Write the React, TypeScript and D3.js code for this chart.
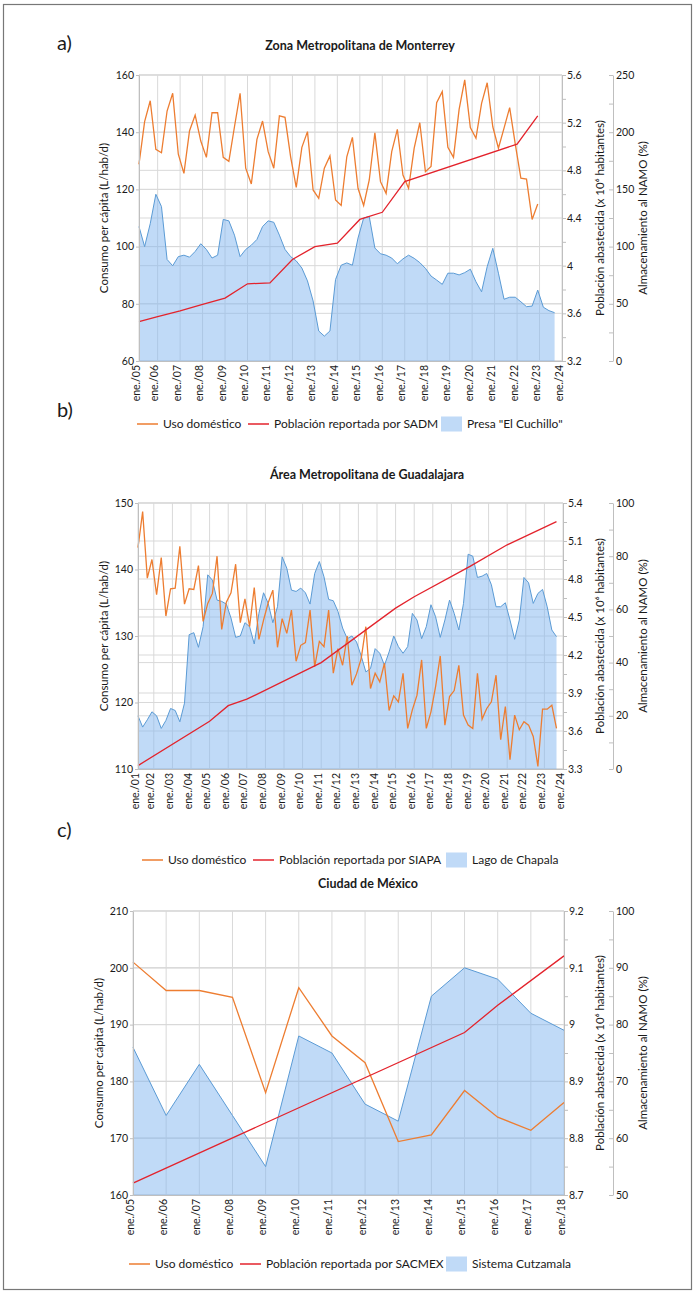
import { useEffect, useRef } from 'react'
import * as d3 from 'd3'

const W = 698, H = 1296
const FONT = 'Lato, "Open Sans", sans-serif'

const ORANGE = '#ed7d31'
const RED = '#e3232c'
const BLUE_LINE = '#5b9bd5'
const BLUE_FILL = '#82b5f0'
const GRID = '#d9d9d9'
const AXIS = '#bfbfbf'

// ── a) Monterrey: quarterly points, first one ~mar 2005 ───────────────────
const A_START = 2005.17
const A_USO = [
  128.8, 143.7, 151, 134,
  132.8, 147.4, 153.6, 132.3,
  125.6, 140.5, 146, 136.9,
  131.2, 146.8, 146.8, 131.2,
  129.8, 141.9, 153.6, 127.4,
  121.9, 137.5, 143.9, 133.2,
  127.4, 145.7, 145.2, 131.4,
  120.7, 134.7, 140.2, 119.8,
  116.9, 127.4, 131.7, 116.3,
  114.4, 131.4, 138.2, 120.4,
  114.4, 123.3, 139.8, 122.7,
  118.6, 133.2, 141, 125.0,
  120.4, 134.4, 143.3, 126.2,
  128, 150.3, 154.2, 134.7,
  131.2, 148, 158.3, 141.6,
  137.9, 150.1, 157.3, 141.9,
  134.4, 141.4, 148.6, 135.8,
  123.9, 123.6, 109.5, 114.9,
]
const A_PRESA = [
  117.5, 100, 120, 145.75, 135, 88.75, 83.25, 91.25, 92.5, 90.75,
  95.75, 102.5, 97.5, 90, 92.5, 123.75, 122.5, 110, 91.25, 97.5,
  101.25, 106.25, 117.5, 122.5, 121.25, 110, 97.5, 91.25, 87.5, 81.25,
  70, 52.5, 26.25, 21.75, 26.25, 71.25, 83.75, 85.75, 83.75, 107.5,
  125, 126.25, 98.75, 93.75, 92.5, 90, 85, 89.25, 92.5, 89.75,
  86, 81, 74.25, 70.75, 67, 76.75, 76.75, 75.25, 77.25, 80.25,
  69.25, 60.5, 82.5, 98.5, 76.75, 54, 55.75, 55.75, 51.75, 47.5,
  48, 62, 47, 44, 42.25,
]
const A_POB_T = [2005.17, 2006, 2007, 2008, 2009, 2010, 2011, 2012, 2013, 2014, 2015, 2016, 2017, 2022, 2022.92]
const A_POB = [3.531, 3.572, 3.62, 3.675, 3.728, 3.848, 3.855, 4.052, 4.16, 4.189, 4.388, 4.448, 4.705, 5.02, 5.257]

// ── b) Guadalajara: quarterly points, first one ~feb 2001 ─────────────────
const B_START = 2001.15
const B_USO = [
  143.3, 148.7, 138.7, 141.5, 136.2, 141.8, 133, 137.1, 137.2, 143.5,
  134.8, 137.1, 137, 140.6, 132.2, 134.9, 136.4, 142, 131, 135.1,
  136.5, 140.8, 132, 135.6, 131.4, 137.3, 129.5, 132.4, 135, 136.9,
  128.3, 132.6, 130.4, 133.9, 126.2, 128.6, 129, 133.9, 125.4, 129.2,
  128.4, 133.9, 124.4, 128.1, 125.6, 130, 122.6, 124.3, 126.6, 131.4,
  122.1, 124.4, 123.1, 125.9, 118.8, 121, 120.1, 124.4, 116.1, 118.9,
  121.1, 126.4, 116.1, 118.6, 122.4, 127, 116.6, 120.9, 121.8, 125.6,
  118.1, 116.6, 116.1, 124.4, 117.5, 119.1, 120.1, 124.1, 114.4, 119.4,
  111.4, 118.1, 115.9, 117.1, 116.6, 114.9, 110.4, 119, 119, 119.6,
  116.1,
]
const B_CHAPALA = [
  20, 15.75, 18.5, 21.5, 20, 15.25, 18.25, 22.75, 22, 17.75,
  24.75, 50.5, 51.25, 45.75, 53.5, 73, 71, 63.5, 63, 62,
  56.75, 49.5, 50, 55, 53.5, 47, 58.5, 66.25, 62.25, 55,
  61, 79.75, 75.5, 67.25, 66.75, 68, 66.25, 62, 73.5, 78,
  72.25, 63.75, 63.25, 59.25, 53, 49, 50, 47.75, 42.5, 36.5,
  37.75, 45.25, 43.5, 39, 44, 50, 46, 43.5, 46, 58.5,
  56, 49, 53.5, 61.75, 57.25, 49.5, 56, 63.5, 58.5, 52.25,
  62.25, 80.75, 80, 72, 72.5, 73.5, 69.25, 61, 61, 62.5,
  56, 48.75, 56, 72, 70, 62.25, 66, 67.5, 61, 52.25,
  49.75,
]
const B_POB_T = [2001.15, 2005, 2006, 2007, 2011, 2015, 2016, 2019, 2021, 2023.65]
const B_POB = [3.327, 3.677, 3.8, 3.851, 4.14, 4.57, 4.66, 4.9, 5.07, 5.253]

// ── c) Ciudad de México: annual ───────────────────────────────────────────
const C_YEARS = [2005, 2006, 2007, 2008, 2009, 2010, 2011, 2012, 2013, 2014, 2015, 2016, 2017, 2018]
const C_USO = [201, 196, 196, 194.8, 178, 196.5, 188, 183.3, 169.4, 170.6, 178.4, 173.7, 171.4, 176.3]
const C_CUTZ = [76, 64, 73, 64, 55, 78, 75, 66, 63, 85, 90, 88, 82, 79]
const C_POB_T = [2005, 2015, 2016, 2018]
const C_POB = [8.721, 8.986, 9.034, 9.121]

const quarterly = (start: number, n: number) => d3.range(n).map(i => start + i / 4)

type Ax = [number, number, number]
interface Series { t: number[]; v: number[] }
interface Panel {
  letter: string; letterY: number
  title: string; titleX: number; titleY: number
  l: number; r: number; t: number; b: number
  x0: number; x1: number; years: number[]
  leftAx: Ax; pobAx: Ax; pctAx: Ax
  uso: Series; pob: Series; pct: Series
  leftTitleX: number
  legendY: number; legendX: number[]
  pobLabel: string; pctLabel: string
}

const PANELS: Panel[] = [
  {
    letter: 'a)', letterY: 50,
    title: 'Zona Metropolitana de Monterrey', titleX: 360, titleY: 50,
    l: 139, r: 562, t: 75, b: 361,
    x0: A_START, x1: 2024, years: d3.range(2005, 2025),
    leftAx: [60, 160, 20], pobAx: [3.2, 5.6, 0.4], pctAx: [0, 250, 50],
    uso: { t: quarterly(A_START, A_USO.length), v: A_USO },
    pob: { t: A_POB_T, v: A_POB },
    pct: { t: quarterly(A_START, A_PRESA.length), v: A_PRESA },
    leftTitleX: 108,
    legendY: 424, legendX: [137, 248, 441],
    pobLabel: 'Población reportada por SADM', pctLabel: 'Presa "El Cuchillo"',
  },
  {
    letter: 'b)', letterY: 417,
    title: 'Área Metropolitana de Guadalajara', titleX: 367, titleY: 479,
    l: 138, r: 563, t: 503, b: 769,
    x0: B_START, x1: 2024, years: d3.range(2001, 2025),
    leftAx: [110, 150, 10], pobAx: [3.3, 5.4, 0.3], pctAx: [0, 100, 20],
    uso: { t: quarterly(B_START, B_USO.length), v: B_USO },
    pob: { t: B_POB_T, v: B_POB },
    pct: { t: quarterly(B_START, B_CHAPALA.length), v: B_CHAPALA },
    leftTitleX: 108,
    legendY: 860, legendX: [142, 253, 446],
    pobLabel: 'Población reportada por SIAPA', pctLabel: 'Lago de Chapala',
  },
  {
    letter: 'c)', letterY: 837,
    title: 'Ciudad de México', titleX: 368, titleY: 888,
    l: 133, r: 564, t: 911, b: 1195,
    x0: 2005, x1: 2018, years: C_YEARS,
    leftAx: [160, 210, 10], pobAx: [8.7, 9.2, 0.1], pctAx: [50, 100, 10],
    uso: { t: C_YEARS, v: C_USO },
    pob: { t: C_POB_T, v: C_POB },
    pct: { t: C_YEARS, v: C_CUTZ },
    leftTitleX: 103,
    legendY: 1264, legendX: [129, 240, 446],
    pobLabel: 'Población reportada por SACMEX', pctLabel: 'Sistema Cutzamala',
  },
]

const R2X = 613
const fmt = (v: number) => String(+v.toFixed(2))
const ticksOf = ([a, b, s]: Ax) => d3.range(Math.round((b - a) / s) + 1).map(i => +(a + i * s).toFixed(4))
const minorOf = ([a, b, s]: Ax) => d3.range(Math.round((b - a) / s)).map(i => +(a + (i + 0.5) * s).toFixed(4))

function drawPanel(root: d3.Selection<SVGSVGElement, unknown, null, undefined>, p: Panel) {
  const g = root.append('g').attr('font-family', FONT).attr('fill', '#1a1a1a')

  const x = d3.scaleLinear().domain([p.x0, p.x1]).range([p.l, p.r])
  const yL = d3.scaleLinear().domain([p.leftAx[0], p.leftAx[1]]).range([p.b, p.t])
  const yP = d3.scaleLinear().domain([p.pobAx[0], p.pobAx[1]]).range([p.b, p.t])
  const yS = d3.scaleLinear().domain([p.pctAx[0], p.pctAx[1]]).range([p.b, p.t])

  // ── grid ──────────────────────────────────────────────────────────────
  const hy = [...ticksOf(p.leftAx).map(yL), ...ticksOf(p.pobAx).map(yP), ...ticksOf(p.pctAx).map(yS)]
  g.selectAll(null).data(hy).join('line')
    .attr('x1', p.l).attr('x2', p.r).attr('y1', d => d).attr('y2', d => d)
    .attr('stroke', GRID).attr('stroke-width', 1)

  const tx = (yr: number) => x(Math.max(yr, p.x0))
  g.selectAll(null).data(p.years).join('line')
    .attr('x1', tx).attr('x2', tx).attr('y1', p.t).attr('y2', p.b)
    .attr('stroke', GRID).attr('stroke-width', 1)

  // ── storage area ──────────────────────────────────────────────────────
  const pts = p.pct.v.map((v, i) => [p.pct.t[i], v] as [number, number])
  g.append('path').datum(pts)
    .attr('d', d3.area<[number, number]>().x(d => x(d[0])).y0(p.b).y1(d => yS(d[1])))
    .attr('fill', BLUE_FILL).attr('fill-opacity', 0.5)
  g.append('path').datum(pts)
    .attr('d', d3.line<[number, number]>().x(d => x(d[0])).y(d => yS(d[1])))
    .attr('fill', 'none').attr('stroke', BLUE_LINE).attr('stroke-width', 1)

  // ── consumption + population ──────────────────────────────────────────
  const usoPts = p.uso.v.map((v, i) => [p.uso.t[i], v] as [number, number])
  g.append('path').datum(usoPts)
    .attr('d', d3.line<[number, number]>().x(d => x(d[0])).y(d => yL(d[1])))
    .attr('fill', 'none').attr('stroke', ORANGE).attr('stroke-width', 1.3)

  const pobPts = p.pob.v.map((v, i) => [p.pob.t[i], v] as [number, number])
  g.append('path').datum(pobPts)
    .attr('d', d3.line<[number, number]>().x(d => x(d[0])).y(d => yP(d[1])))
    .attr('fill', 'none').attr('stroke', RED).attr('stroke-width', 1.3)

  // ── axes ──────────────────────────────────────────────────────────────
  const styleAx = (ax: d3.Selection<SVGGElement, unknown, null, undefined>) => {
    ax.select('.domain').attr('stroke', AXIS)
    ax.selectAll('.tick line').attr('stroke', AXIS)
    ax.selectAll('.tick text').attr('font-size', 10.5).attr('fill', '#1a1a1a').attr('font-family', FONT)
  }

  g.append('g').attr('transform', `translate(${p.l},0)`)
    .call(d3.axisLeft(yL).tickValues(ticksOf(p.leftAx)).tickFormat(d => fmt(+d)).tickSize(3).tickPadding(2).tickSizeOuter(0))
    .call(styleAx)

  g.append('g').attr('transform', `translate(0,${p.b})`)
    .call(d3.axisBottom(x).tickValues(p.years.map(yr => Math.max(yr, p.x0))).tickSize(0)
      .tickFormat((_, i) => `ene./${String(p.years[i] % 100).padStart(2, '0')}`))
    .call(styleAx)
    .call(ax => ax.selectAll('.tick text')
      .attr('transform', 'rotate(-90)').attr('text-anchor', 'end')
      .attr('x', -4).attr('y', 0).attr('dy', '0em'))

  // right 1: population
  g.append('g').attr('transform', `translate(${p.r},0)`)
    .call(d3.axisRight(yP).tickValues([...ticksOf(p.pobAx), ...minorOf(p.pobAx)]).tickSize(4).tickSizeOuter(0)
      .tickFormat(d => (ticksOf(p.pobAx).includes(+d) ? fmt(+d) : '')).tickPadding(1))
    .call(styleAx)

  // right 2: storage (% NAMO), ticks pointing inward
  g.append('g').attr('transform', `translate(${R2X},0)`)
    .call(d3.axisLeft(yS).tickValues([...ticksOf(p.pctAx), ...minorOf(p.pctAx)]).tickSize(4).tickSizeOuter(0)
      .tickFormat(() => ''))
    .call(styleAx)
  g.selectAll(null).data(ticksOf(p.pctAx)).join('text')
    .attr('x', R2X + 3).attr('y', d => yS(d)).attr('dy', '0.35em')
    .attr('font-size', 10.5).text(d => fmt(d))

  // ── titles ────────────────────────────────────────────────────────────
  const midY = (p.t + p.b) / 2
  const rotTitle = (xPos: number, label: string) =>
    g.append('text').attr('transform', `translate(${xPos},${midY}) rotate(-90)`)
      .attr('text-anchor', 'middle').attr('font-size', 11.5).text(label)
  rotTitle(p.leftTitleX, 'Consumo per cápita (L/hab/d)')
  rotTitle(604, 'Población abastecida (x 10⁶ habitantes)')
  rotTitle(647, 'Almacenamiento al NAMO (%)')

  g.append('text').attr('x', p.titleX).attr('y', p.titleY).attr('text-anchor', 'middle')
    .attr('font-size', 12.5).attr('font-weight', 700).text(p.title)
  g.append('text').attr('x', 57).attr('y', p.letterY).attr('font-size', 20).text(p.letter)

  // ── legend ────────────────────────────────────────────────────────────
  const ly = p.legendY
  const [xo, xr, xb] = p.legendX
  g.append('line').attr('x1', xo).attr('x2', xo + 21).attr('y1', ly).attr('y2', ly)
    .attr('stroke', ORANGE).attr('stroke-width', 1.5)
  g.append('text').attr('x', xo + 26).attr('y', ly).attr('dy', '0.35em').attr('font-size', 12).text('Uso doméstico')
  g.append('line').attr('x1', xr).attr('x2', xr + 21).attr('y1', ly).attr('y2', ly)
    .attr('stroke', RED).attr('stroke-width', 1.5)
  g.append('text').attr('x', xr + 26).attr('y', ly).attr('dy', '0.35em').attr('font-size', 12).text(p.pobLabel)
  g.append('rect').attr('x', xb).attr('y', ly - 7.5).attr('width', 21).attr('height', 15)
    .attr('fill', BLUE_FILL).attr('fill-opacity', 0.5)
  g.append('text').attr('x', xb + 26).attr('y', ly).attr('dy', '0.35em').attr('font-size', 12).text(p.pctLabel)
}

export default function App() {
  const svgRef = useRef<SVGSVGElement>(null)

  useEffect(() => {
    const svg = d3.select(svgRef.current!)
    svg.selectAll('*').remove()

    svg.append('rect').attr('width', W).attr('height', H).attr('fill', '#fff')
    svg.append('rect').attr('x', 3.5).attr('y', 4.5).attr('width', 688).attr('height', 1285)
      .attr('fill', 'none').attr('stroke', '#777').attr('stroke-width', 1.2)

    PANELS.forEach(p => drawPanel(svg, p))
  }, [])

  return (
    <svg
      ref={svgRef}
      width={W}
      height={H}
      viewBox={`0 0 ${W} ${H}`}
      style={{ position: 'absolute', left: 0, top: 0, display: 'block' }}
    />
  )
}
